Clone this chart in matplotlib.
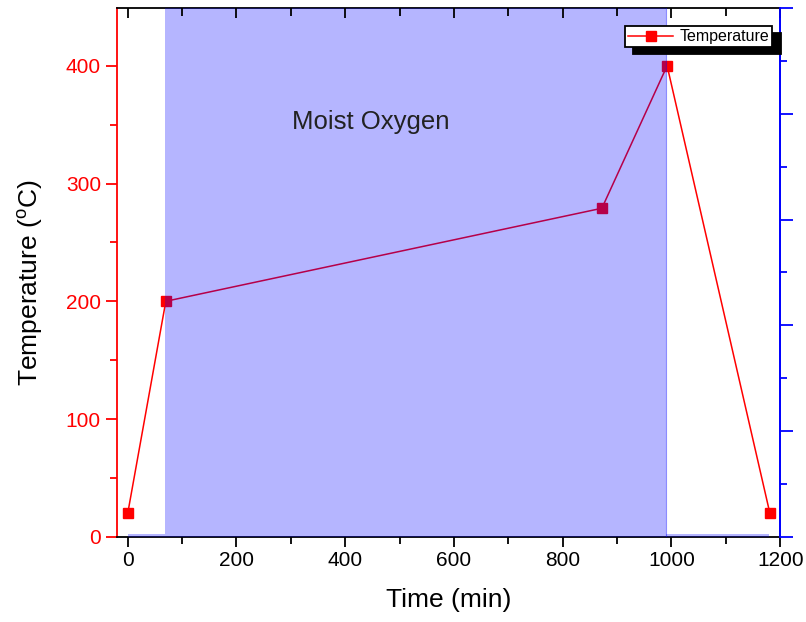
import numpy as np
import matplotlib
matplotlib.use("Agg")
import matplotlib.pyplot as plt
from matplotlib.ticker import MultipleLocator

# data
time_min = [0, 70, 872, 992, 1181]
temperature = [20, 200, 279, 400, 20]

# shaded "Moist Oxygen" region (x edges and heights)
shade_x = [0, 68, 68, 990, 990, 1180]
shade_top = [2, 2, 450, 450, 2, 2]

plt.rcParams["font.family"] = ["Liberation Sans", "DejaVu Sans"]
plt.rcParams["mathtext.fontset"] = "custom"
plt.rcParams["mathtext.rm"] = "Liberation Sans"

fig = plt.figure(figsize=(8.06, 6.22), dpi=100)
ax = fig.add_axes([0.145, 0.137, 0.823, 0.850])

ax.plot(time_min, temperature, color="red", lw=1.1, marker="s", ms=7,
        markeredgecolor="red", label="Temperature", zorder=2)

# shading drawn on top, as in the original
ax.fill_between(shade_x, 0, shade_top, facecolor="blue", alpha=0.29,
                edgecolor="none", zorder=3)
ax.axvline(990, color="blue", lw=0.8, alpha=0.45, zorder=3)

ax.set_xlim(-20, 1200)
ax.set_ylim(0, 449)
ax.xaxis.set_major_locator(MultipleLocator(200))
ax.xaxis.set_minor_locator(MultipleLocator(100))
ax.yaxis.set_major_locator(MultipleLocator(100))
ax.yaxis.set_minor_locator(MultipleLocator(50))

ax.text(447, 352, "Moist Oxygen", fontsize=18.5, color="#222222", ha="center",
        va="center", zorder=4)

ax.set_xlabel("Time (min)", fontsize=19, labelpad=13)
ax.set_ylabel(r"Temperature ($^{\rm o}$C)", fontsize=19)
ax.yaxis.set_label_coords(-0.108, 0.48)

for side, c in [("left", "red"), ("bottom", "black"), ("top", "black"), ("right", "blue")]:
    ax.spines[side].set_color(c)
    ax.spines[side].set_linewidth(1.3)

ax.tick_params(axis="x", which="both", direction="out", top=False, labelsize=15,
               colors="black", width=1.3)
ax.tick_params(axis="x", which="major", length=7)
ax.tick_params(axis="x", which="minor", length=5)
ax.tick_params(axis="y", which="both", direction="out", colors="red",
               labelsize=15, width=1.3)
ax.tick_params(axis="y", which="major", length=8)
ax.tick_params(axis="y", which="minor", length=5)

# top ticks point inward
ax2 = ax.twiny()
ax2.set_xlim(ax.get_xlim())
ax2.xaxis.set_major_locator(MultipleLocator(200))
ax2.xaxis.set_minor_locator(MultipleLocator(100))
ax2.tick_params(axis="x", which="both", direction="in", labeltop=False, width=1.3)
ax2.tick_params(axis="x", which="major", length=7)
ax2.tick_params(axis="x", which="minor", length=6)
for s in ax2.spines.values():
    s.set_visible(False)

# right axis, blue, no labels
ax3 = ax.twinx()
ax3.set_ylim(0, 5)
ax3.yaxis.set_major_locator(MultipleLocator(1))
ax3.yaxis.set_minor_locator(MultipleLocator(0.5))
ax3.tick_params(axis="y", which="both", direction="out", colors="blue",
                labelright=False, width=1.3)
ax3.tick_params(axis="y", which="major", length=9)
ax3.tick_params(axis="y", which="minor", length=5)
for s in ["left", "top", "bottom"]:
    ax3.spines[s].set_visible(False)
ax3.spines["right"].set_color("blue")
ax3.spines["right"].set_linewidth(1.3)

leg = ax3.legend(*ax.get_legend_handles_labels(), loc="upper right",
                 bbox_to_anchor=(0.988, 0.966), fontsize=11.5, fancybox=False,
                 framealpha=1, edgecolor="black", borderpad=0.2,
                 handlelength=2.8, handletextpad=0.4, borderaxespad=0,
                 shadow={"ox": 6, "oy": -5, "facecolor": "black",
                         "edgecolor": "black", "alpha": 1})
leg.get_frame().set_linewidth(1.3)
leg.set_zorder(10)

fig.savefig("out.png", dpi=100)
